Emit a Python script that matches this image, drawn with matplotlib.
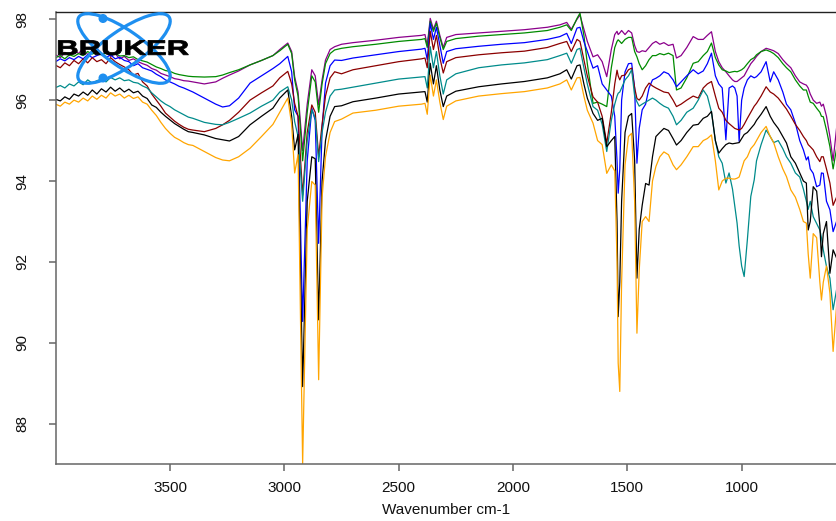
import matplotlib
matplotlib.use("Agg")
import matplotlib.pyplot as plt
import matplotlib.transforms as mtransforms
from matplotlib.patches import Ellipse, Circle, PathPatch
from matplotlib.textpath import TextPath
from matplotlib.font_manager import FontProperties

# ---------------- data (wavenumber in cm-1, transmittance %) ----------------
wavenumber = [
    4000, 3980, 3960, 3940, 3920, 3900, 3880, 3860, 3840, 3820,
    3800, 3780, 3760, 3740, 3720, 3700, 3680, 3660, 3640, 3620,
    3600, 3580, 3560, 3540, 3520, 3500, 3480, 3460, 3440, 3420,
    3400,
    3350, 3300, 3270, 3240, 3200, 3150, 3100, 3050, 3020,
    2985, 2968, 2955, 2940, 2920, 2900, 2880, 2865, 2850, 2835,
    2820, 2800, 2780, 2750, 2700, 2600, 2500, 2400, 2385, 2375,
    2362, 2348, 2335, 2320, 2305, 2290, 2250, 2150, 2050, 1950,
    1850,
    1795, 1765, 1745, 1720, 1707, 1690, 1675, 1650, 1630, 1610,
    1590, 1570, 1555, 1545, 1540, 1533, 1525, 1510, 1495, 1481,
    1468, 1458, 1448, 1435, 1420, 1405, 1390, 1375, 1358, 1340,
    1320, 1300, 1285, 1265, 1240, 1212, 1190, 1168, 1150, 1132,
    1115, 1100, 1085, 1069, 1055, 1040, 1030, 1020, 1011, 1000,
    989, 975, 960, 945, 935, 915, 893, 875, 860, 840,
    820, 804, 785, 765, 746, 730, 717, 709, 700, 687,
    672, 658, 651, 643, 629, 614, 600, 585,
]

purple = [
    97.12, 97.05, 97.18, 97.10, 97.25, 97.15, 97.28, 97.12, 97.22, 97.30,
    97.12, 97.20, 97.08, 97.15, 97.02, 97.08, 96.98, 97.02, 96.95, 96.90,
    96.86, 96.78, 96.74, 96.66, 96.62, 96.58, 96.53, 96.51, 96.48, 96.47,
    96.45,
    96.40, 96.45, 96.54, 96.62, 96.72, 96.87, 96.98, 97.10, 97.25,
    97.41, 97.20, 96.58, 96.20, 94.75, 95.90, 96.75, 96.60, 95.88, 96.50,
    96.99, 97.25, 97.32, 97.38, 97.42, 97.48, 97.55, 97.60, 97.62, 97.35,
    98.02, 97.75, 97.95, 97.60, 97.30, 97.55, 97.62, 97.66, 97.70, 97.74,
    97.80,
    97.86, 97.92, 97.75, 98.00, 98.10, 97.75, 97.45, 97.07, 97.12, 96.95,
    96.58, 97.25, 97.62, 97.70, 97.62, 97.66, 97.72, 97.62, 97.72, 97.66,
    97.35, 97.20, 97.18, 97.22, 97.20, 97.30, 97.40, 97.45, 97.38, 97.42,
    97.35, 97.38, 97.04, 97.10, 97.30, 97.57, 97.50, 97.50, 97.60, 97.69,
    97.20, 96.95, 96.80, 96.70, 96.60, 96.50, 96.46, 96.46, 96.50, 96.55,
    96.60, 96.75, 96.90, 97.00, 97.08, 97.20, 97.28, 97.25, 97.22, 97.15,
    97.00, 96.90, 96.80, 96.60, 96.45, 96.40, 96.37, 96.30, 96.15, 96.00,
    95.92, 95.95, 95.85, 95.90, 95.60, 95.10, 94.50, 95.30,
]

green = [
    97.05, 97.10, 97.02, 97.12, 97.08, 97.15, 97.10, 97.20, 97.14, 97.18,
    97.12, 97.17, 97.10, 97.15, 97.09, 97.10, 97.05, 97.07, 97.00, 96.97,
    96.94, 96.88, 96.82, 96.78, 96.73, 96.71, 96.66, 96.63, 96.61, 96.59,
    96.58,
    96.57, 96.58, 96.62, 96.68, 96.75, 96.87, 96.98, 97.10, 97.22,
    97.38, 97.15, 96.50, 96.10, 94.50, 95.70, 96.60, 96.45, 95.70, 96.40,
    96.90, 97.15, 97.24, 97.28, 97.32, 97.38, 97.45, 97.50, 97.52, 97.30,
    97.95, 97.70, 97.90, 97.55, 97.25, 97.45, 97.52, 97.58, 97.62, 97.66,
    97.72,
    97.80, 97.86, 97.72, 98.02, 98.15, 97.60, 96.90, 95.92, 95.95, 95.90,
    95.84, 96.80, 97.30, 97.45, 97.49, 97.45, 97.40, 97.50, 97.55, 97.55,
    97.20, 97.07, 96.90, 96.75, 96.85, 97.00, 97.10, 97.10, 97.15, 97.12,
    97.16, 97.10, 96.25, 96.30, 96.55, 96.91, 96.95, 97.10, 97.20, 97.41,
    97.05, 96.87, 96.75, 96.72, 96.68, 96.70, 96.71, 96.70, 96.72, 96.75,
    96.80, 96.90, 97.00, 97.05, 97.12, 97.20, 97.24, 97.20, 97.15, 97.05,
    96.90, 96.80, 96.70, 96.50, 96.35, 96.25, 96.25, 96.10, 95.95, 95.92,
    95.80, 95.70, 95.60, 95.59, 95.26, 94.85, 94.30, 94.80,
]

blue = [
    96.95, 97.02, 96.97, 97.05, 97.00, 97.08, 97.02, 97.12, 97.05, 97.10,
    97.15, 97.05, 97.12, 97.02, 97.06, 96.98, 96.95, 96.85, 96.90, 96.80,
    96.76, 96.72, 96.64, 96.58, 96.50, 96.45, 96.40, 96.34, 96.30, 96.25,
    96.20,
    96.05, 95.90, 95.83, 95.86, 96.05, 96.42, 96.60, 96.78, 96.90,
    97.08, 96.70, 95.76, 95.60, 90.53, 94.50, 95.80, 95.50, 92.46, 95.30,
    96.42, 96.85, 96.99, 96.98, 97.04, 97.12, 97.20, 97.26, 97.28, 97.00,
    97.90, 97.50, 97.80, 97.35, 96.91, 97.20, 97.27, 97.33, 97.38, 97.42,
    97.50,
    97.57, 97.65, 97.40, 97.78, 97.80, 97.45, 97.20, 96.79, 96.85, 96.40,
    96.25, 96.10, 95.60, 94.50, 93.70, 94.30, 96.00, 96.70, 96.90, 96.91,
    96.30, 94.44, 95.30, 95.76, 95.90, 96.30, 96.50, 96.54, 96.60, 96.70,
    96.65, 96.50, 96.33, 96.45, 96.60, 96.75, 96.65, 96.72, 96.90, 97.16,
    96.60, 96.40, 96.30, 95.02, 96.30, 96.35, 96.30, 96.10, 94.98, 96.00,
    96.30, 96.50, 96.60, 96.55, 96.58, 96.70, 96.95, 96.45, 96.70, 96.50,
    96.20, 95.90, 95.76, 95.43, 95.00, 94.77, 94.52, 94.60, 94.30, 94.19,
    93.86, 93.90, 94.20, 94.19, 93.50, 93.29, 92.75, 93.00,
]

darkred = [
    96.86, 96.80, 96.92, 96.85, 96.98, 96.90, 97.02, 96.92, 97.05, 96.95,
    97.00, 96.90, 97.05, 96.95, 96.88, 96.82, 96.75, 96.62, 96.66, 96.45,
    96.35, 96.15, 96.00, 95.85, 95.68, 95.58, 95.48, 95.40, 95.33, 95.28,
    95.26,
    95.22, 95.30, 95.39, 95.50, 95.70, 96.00, 96.18, 96.35, 96.55,
    96.71, 96.40, 95.92, 95.60, 93.65, 95.20, 95.88, 95.70, 94.60, 95.40,
    96.10, 96.55, 96.70, 96.65, 96.75, 96.85, 96.95, 97.02, 97.04, 96.80,
    97.70, 97.25, 97.60, 97.05, 96.67, 96.95, 97.05, 97.12, 97.17, 97.21,
    97.30,
    97.40, 97.45, 97.20, 97.50, 97.45, 97.00, 96.60, 96.08, 95.95, 95.60,
    94.93, 95.70, 96.40, 96.74, 96.60, 96.50, 96.60, 96.62, 96.75, 96.79,
    96.30, 96.04, 96.00, 96.10, 96.30, 96.42, 96.35, 96.30, 96.25, 96.20,
    96.18, 96.00, 95.84, 95.90, 96.00, 96.10, 96.05, 96.30, 96.40, 96.46,
    96.10, 95.80, 95.70, 95.50, 95.42, 95.35, 95.30, 95.28, 95.26, 95.30,
    95.40, 95.55, 95.70, 95.85, 95.92, 96.10, 96.33, 96.20, 96.15, 96.05,
    95.90, 95.78, 95.60, 95.40, 95.25, 95.10, 95.00, 94.90, 94.85, 94.77,
    94.60, 94.48, 94.60, 94.60, 94.30, 93.95, 93.40, 93.60,
]

teal = [
    96.31, 96.36, 96.30, 96.40, 96.35, 96.45, 96.38, 96.50, 96.42, 96.48,
    96.52, 96.45, 96.56, 96.50, 96.55, 96.48, 96.50, 96.44, 96.42, 96.35,
    96.30, 96.18, 96.08, 95.98, 95.90, 95.84, 95.76, 95.70, 95.64, 95.58,
    95.55,
    95.45, 95.40, 95.39, 95.45, 95.55, 95.68, 95.85, 96.00, 96.20,
    96.33, 96.00, 95.47, 95.10, 93.50, 95.00, 95.76, 95.55, 94.48, 95.20,
    95.70, 96.10, 96.25, 96.27, 96.32, 96.42, 96.52, 96.57, 96.58, 96.30,
    97.32, 96.80, 97.20, 96.60, 96.15, 96.50, 96.65, 96.80, 96.87, 96.92,
    97.00,
    97.10, 97.16, 96.91, 97.25, 97.28, 96.80, 96.40, 95.84, 95.75, 95.40,
    94.73, 95.50, 95.90, 96.10, 96.17, 96.20, 96.30, 96.50, 96.60, 96.75,
    96.10, 95.96, 95.85, 95.90, 95.95, 96.00, 96.05, 96.00, 95.92, 95.85,
    95.80, 95.60, 95.39, 95.50, 95.70, 95.80, 96.00, 96.25, 96.10, 95.70,
    95.00, 94.60, 94.44, 93.95, 94.20, 93.80, 93.37, 92.96, 92.40, 91.90,
    91.64, 92.55, 93.62, 94.03, 94.50, 94.90, 95.26, 95.10, 94.95, 95.00,
    94.80, 94.60, 94.44, 94.20, 94.10, 93.80, 93.50, 93.30, 93.50, 93.12,
    92.95, 92.79, 92.60, 92.30, 91.89, 91.60, 90.82, 91.31,
]

black = [
    96.02, 95.98, 96.08, 96.02, 96.15, 96.10, 96.20, 96.12, 96.25, 96.15,
    96.28, 96.20, 96.32, 96.22, 96.30, 96.20, 96.27, 96.18, 96.22, 96.10,
    96.04, 95.88, 95.82, 95.70, 95.60, 95.51, 95.42, 95.35, 95.28, 95.22,
    95.20,
    95.14, 95.05, 95.02, 94.99, 95.10, 95.39, 95.60, 95.80, 96.05,
    96.25, 95.60, 94.77, 95.15, 88.92, 93.50, 94.60, 94.55, 90.57, 94.00,
    95.00, 95.60, 95.84, 95.86, 95.96, 96.05, 96.15, 96.20, 96.21, 95.95,
    96.91, 96.40, 96.85, 96.25, 95.84, 96.10, 96.22, 96.33, 96.40, 96.46,
    96.55,
    96.65, 96.75, 96.52, 96.85, 96.87, 96.40, 96.05, 95.67, 95.50, 95.55,
    94.85, 95.00, 95.10, 93.00, 90.65, 91.50, 93.50, 95.20, 95.60, 95.67,
    94.50, 91.60, 92.80, 93.40, 93.94, 93.90, 94.60, 95.10, 95.20, 95.30,
    95.25, 95.05, 94.89, 95.00, 95.20, 95.38, 95.40, 95.55, 95.60, 95.72,
    95.00, 94.69, 94.80, 94.90, 94.94, 94.92, 94.93, 94.94, 94.95, 95.05,
    95.15, 95.20, 95.30, 95.40, 95.50, 95.65, 95.84, 95.60, 95.45, 95.30,
    95.10, 94.94, 94.60, 94.44, 94.20, 94.00, 93.95, 92.79, 93.00, 93.86,
    93.75, 92.90, 92.13, 92.70, 93.00, 91.72, 92.30, 92.10,
]

orange = [
    95.90, 95.85, 95.95, 95.90, 96.00, 95.95, 96.05, 95.98, 96.10, 96.02,
    96.12, 96.05, 96.18, 96.10, 96.15, 96.05, 96.12, 96.04, 96.08, 95.95,
    95.90, 95.75, 95.62, 95.45, 95.30, 95.18, 95.08, 95.02, 94.95, 94.90,
    94.88,
    94.73, 94.58, 94.52, 94.50, 94.60, 94.81, 95.10, 95.40, 95.70,
    96.05, 95.40, 94.20, 94.65, 87.02, 92.80, 93.99, 93.90, 89.09, 93.60,
    94.60, 95.20, 95.47, 95.53, 95.68, 95.75, 95.85, 95.90, 95.92, 95.65,
    96.62, 96.10, 96.50, 95.95, 95.52, 95.85, 95.98, 96.10, 96.16, 96.21,
    96.30,
    96.40, 96.50, 96.25, 96.55, 96.56, 96.10, 95.75, 95.43, 95.00, 94.90,
    94.19, 94.40, 94.25, 92.00, 89.50, 88.80, 91.50, 94.40, 95.10, 95.18,
    93.50, 90.24, 91.80, 93.00, 93.12, 93.00, 94.00, 94.36, 94.60, 94.72,
    94.65, 94.40, 94.28, 94.40, 94.60, 94.85, 94.85, 95.00, 95.05, 95.14,
    94.50, 93.78, 94.00, 94.07, 94.07, 94.05, 94.05, 94.07, 94.10, 94.30,
    94.50, 94.60, 94.80, 94.90, 95.00, 95.20, 95.35, 95.10, 94.95, 94.60,
    94.30, 94.11, 93.78, 93.60, 93.30, 93.00, 92.96, 92.20, 91.60, 92.70,
    92.60, 91.50, 91.06, 91.50, 91.90, 91.23, 89.79, 90.90,
]

series = [
    ("purple", purple, "#8B008B"),
    ("green", green, "#008B00"),
    ("blue", blue, "#0000FF"),
    ("darkred", darkred, "#8B0000"),
    ("teal", teal, "#008B8B"),
    ("black", black, "#000000"),
    ("orange", orange, "#FFA500"),
]

x_ticks = [3500, 3000, 2500, 2000, 1500, 1000]
y_ticks = [88, 90, 92, 94, 96, 98]
x_label = "Wavenumber cm-1"

# ---------------- figure ----------------
W, H = 837, 521
plt.rcParams["font.family"] = ["Liberation Sans", "DejaVu Sans"]
fig = plt.figure(figsize=(W / 100, H / 100), dpi=100)
left, right, top, bottom = 55.7, 837.0, 12.3, 464.3
ax = fig.add_axes([left / W, 1 - bottom / H, (right - left) / W, (bottom - top) / H])

for name, vals, col in series:
    ax.plot(wavenumber, vals, color=col, lw=0.9, solid_joinstyle="round")

ax.set_xlim(4000, 583)
ax.set_ylim(87.0, 98.17)
ax.set_xticks(x_ticks)
ax.set_yticks(y_ticks)
ax.set_xticklabels([str(v) for v in x_ticks])
ax.set_yticklabels([str(v) for v in y_ticks], rotation=90, va="center")

gray = "#666666"
ax.spines["right"].set_visible(False)
ax.spines["top"].set_color("#222222")
ax.spines["left"].set_color(gray)
ax.spines["bottom"].set_color(gray)
for s in ("left", "bottom"):
    ax.spines[s].set_linewidth(1.1)
ax.spines["top"].set_linewidth(1.0)
ax.tick_params(axis="both", direction="out", length=5, width=1.1, color=gray,
               labelsize=11, labelcolor="#111111")
ax.tick_params(axis="x", pad=7)
ax.tick_params(axis="y", pad=14)
ax.set_xlabel(x_label, fontsize=11, labelpad=6, color="#111111")

# ---------------- Bruker logo (pixel coordinates, y down) ----------------
px = mtransforms.Affine2D().scale(1 / W, -1 / H).translate(0, 1) + fig.transFigure
logo_blue = "#1E8FF0"
for ang in (35, -35):
    e = Ellipse((124, 48.5), 110, 36, angle=ang, fill=False, edgecolor=logo_blue,
                lw=2.3, transform=px, zorder=20)
    fig.add_artist(e)
for cy in (18.5, 78):
    c = Circle((103, cy), 3.8, color=logo_blue, transform=px, zorder=21)
    fig.add_artist(c)

tp = TextPath((0, 0), "BRUKER", size=20,
              prop=FontProperties(family="Liberation Sans", weight="bold"))
bb = tp.get_extents()
sx = (188.5 - 58.3) / bb.width
sy = (55.0 - 40.5) / bb.height
tt = (mtransforms.Affine2D().translate(-bb.x0, -bb.y0).scale(sx, -sy).translate(58.3, 55.0))
patch = PathPatch(tt.transform_path(tp), facecolor="black", edgecolor="black", lw=0.6,
                  transform=px, zorder=22)
fig.add_artist(patch)

fig.savefig("out.png", dpi=100)
